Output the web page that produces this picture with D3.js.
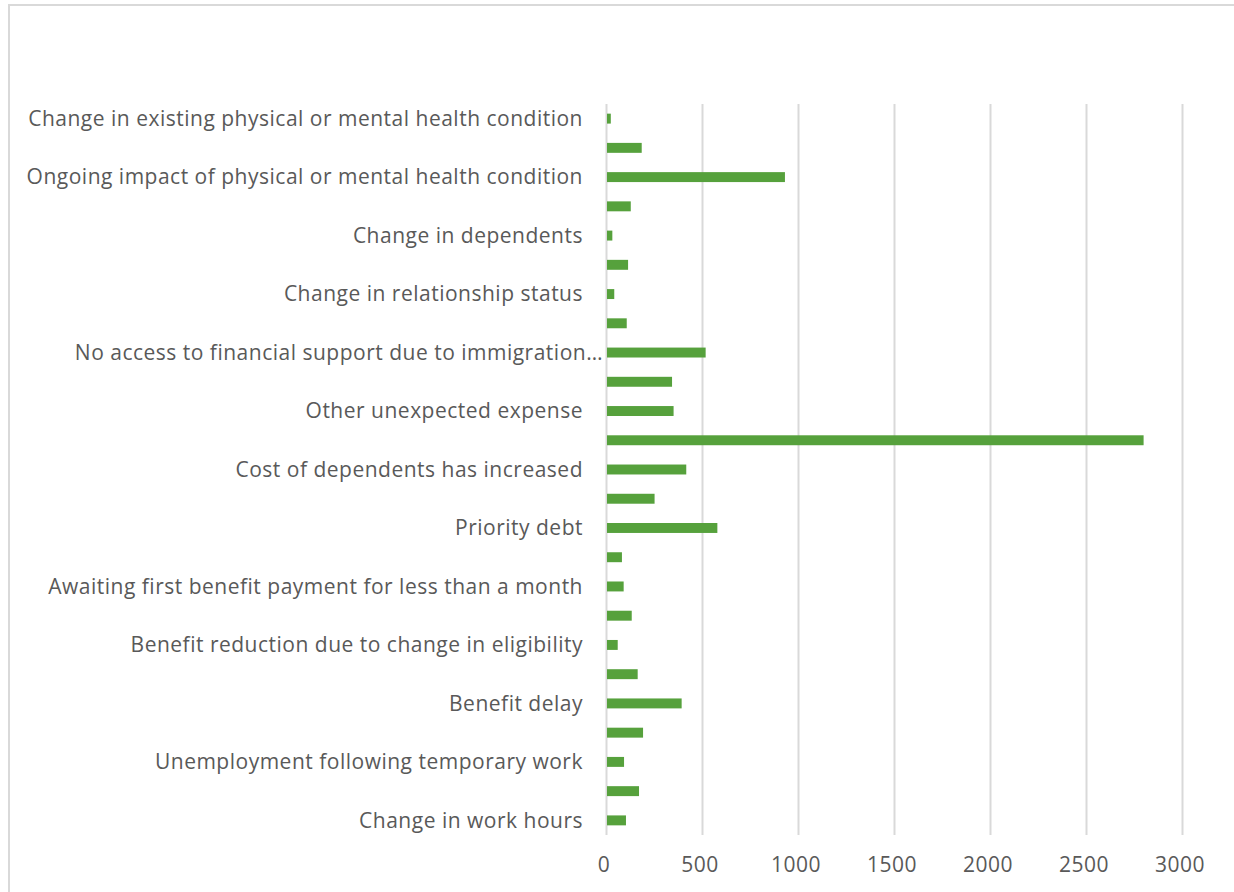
<!DOCTYPE html>
<html lang="en">
<head>
    <meta charset="UTF-8">
    <script src="https://d3js.org/d3.v7.min.js"></script>
    <style>
        body{ margin:0; background:#fff; }
        .label{ font-family:"Open Sans", sans-serif; fill:#595959; }
        .cat{ font-size:21px; letter-spacing:0.5px; }
        .tick-label{ font-size:21px; letter-spacing:0.5px; }
        .grid line{ stroke:#d9d9d9; stroke-width:2; }
        .grid path{ display:none; }
    </style>
    <title>Reasons</title>
</head>
<body>
    <svg width="1234" height="892"></svg>
    <script>

        // category labels, top to bottom (only every other one is printed on the chart)
        const labels = [
            "Change in existing physical or mental health condition", "",
            "Ongoing impact of physical or mental health condition", "",
            "Change in dependents", "",
            "Change in relationship status", "",
            "No access to financial support due to immigration\u2026", "",
            "Other unexpected expense", "",
            "Cost of dependents has increased", "",
            "Priority debt", "",
            "Awaiting first benefit payment for less than a month", "",
            "Benefit reduction due to change in eligibility", "",
            "Benefit delay", "",
            "Unemployment following temporary work", "",
            "Change in work hours"
        ];

        // values
        const values = [25, 186, 932, 129, 33, 115, 43, 108, 519, 344, 352, 2800, 418,
                        253, 580, 83, 92, 134, 61, 165, 394, 193, 94, 172, 104];

        const xTicks = [0, 500, 1000, 1500, 2000, 2500, 3000];

        const width = 1234, height = 892;
        const margin = { top:104, right:52, bottom:57, left:606 };

        const svg = d3.select("svg");

        // chart frame (only top and left edges are visible in the crop)
        svg.append("path")
            .attr("d", `M9,${height} V5 H${width}`)
            .attr("fill","none")
            .attr("stroke","#d9d9d9")
            .attr("stroke-width",2);

        const x = d3.scaleLinear()
            .domain([0, 3000])
            .range([margin.left, width - margin.right]);

        const y = d3.scaleBand()
            .domain(d3.range(values.length))
            .range([margin.top, height - margin.bottom])
            .paddingInner(0.66)
            .paddingOuter(0.33);

        // vertical gridlines
        svg.append("g")
            .attr("class","grid")
            .attr("transform",`translate(0,${height - margin.bottom})`)
            .call(d3.axisBottom(x).tickValues(xTicks).tickSize(-(height - margin.top - margin.bottom)).tickFormat(""));

        // bars
        svg.selectAll(".bar")
            .data(values)
            .enter().append("rect")
            .attr("class","bar")
            .attr("x", x(0) + 1)
            .attr("y", (d,i) => y(i))
            .attr("width", d => x(d) - x(0) - 1)
            .attr("height", y.bandwidth())
            .attr("fill","#56a13c");

        // category labels
        svg.selectAll(".cat")
            .data(labels)
            .enter().append("text")
            .attr("class","label cat")
            .attr("x", d => d.endsWith("\u2026") ? 603 : 583)
            .attr("y", (d,i) => y(i) + y.bandwidth()/2)
            .attr("dy","0.35em")
            .attr("text-anchor","end")
            .text(d => d);

        // x tick labels
        svg.selectAll(".tick-label")
            .data(xTicks)
            .enter().append("text")
            .attr("class","label tick-label")
            .attr("x", d => x(d) - 2)
            .attr("y", 865)
            .attr("dy","0.35em")
            .attr("text-anchor","middle")
            .text(d => d);

    </script>
</body>
</html>
